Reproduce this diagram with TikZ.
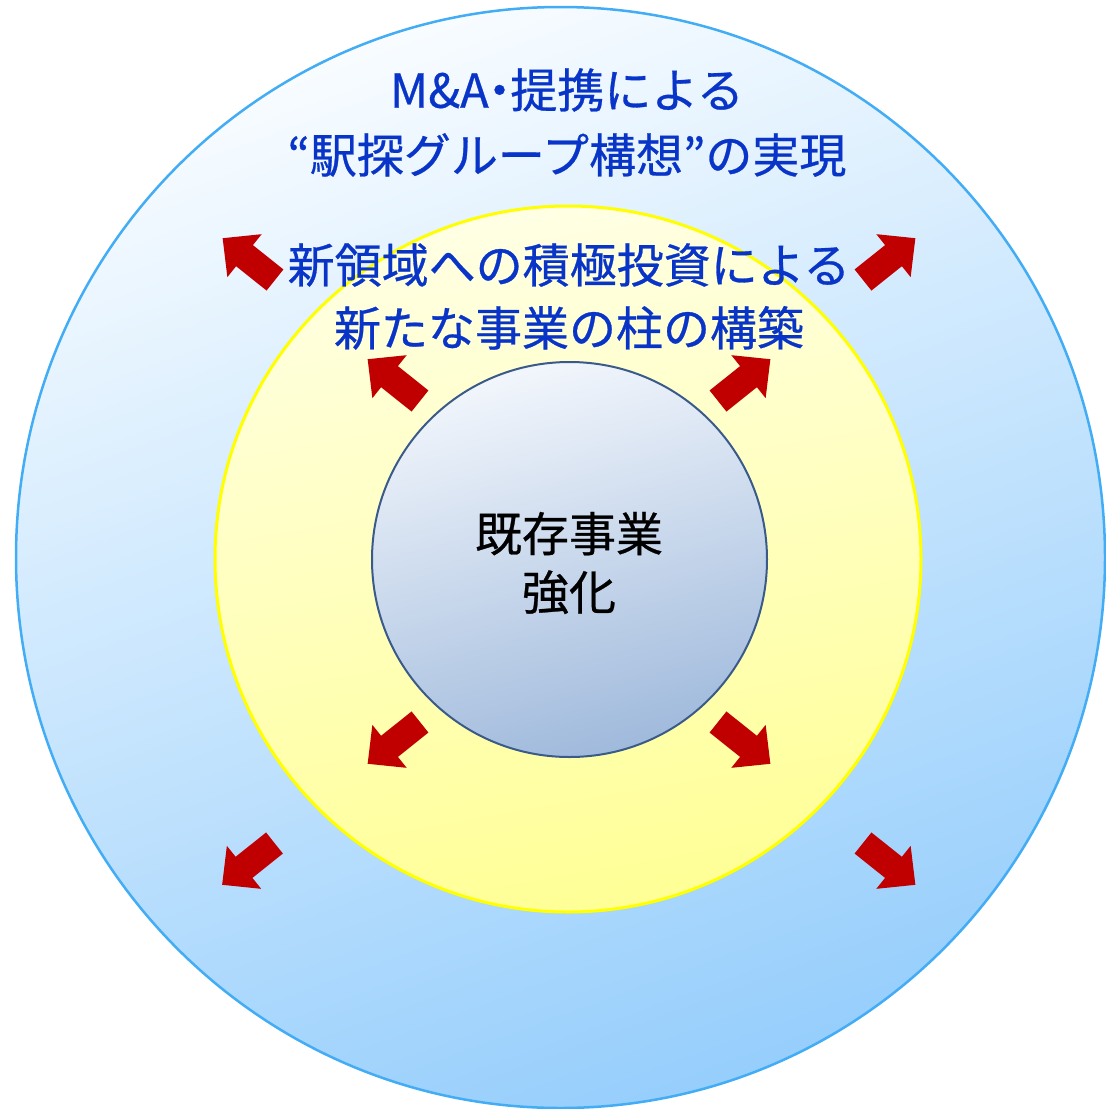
\documentclass[tikz,border=0pt]{standalone}
\usepackage{fontspec}
\usetikzlibrary{shapes.geometric}
\newfontfamily\jpfont[FakeBold=0.6]{Noto Sans CJK JP}
\definecolor{outerline}{RGB}{66,172,245}
\definecolor{outertop}{RGB}{248,252,255}
\definecolor{outerbot}{RGB}{150,206,252}
\definecolor{midline}{RGB}{255,255,0}
\definecolor{midtop}{RGB}{255,255,228}
\definecolor{midbot}{RGB}{255,255,150}
\definecolor{innerline}{RGB}{58,90,138}
\definecolor{innertop}{RGB}{242,246,252}
\definecolor{innerbot}{RGB}{160,186,220}
\definecolor{arrowred}{RGB}{192,0,0}
\definecolor{txtblue}{RGB}{8,52,200}
\tikzset{
  ring/.style={inner sep=0pt, outer sep=0pt},
  bluetext/.style={text=txtblue, align=center, inner sep=0pt},
  redarrow/.pic={\fill[arrowred] (0,-13.5) -- (39,-13.5) -- (39,-27.5) -- (67,0) -- (39,27.5) -- (39,13.5) -- (0,13.5) -- cycle;}
}
\begin{document}
\begin{tikzpicture}[x=1pt,y=-1pt]
\useasboundingbox (0,0) rectangle (1106,1109);
\node[ring, ellipse, minimum width=1089pt, minimum height=1101pt, draw=outerline, line width=2.5pt,
      top color=outertop, bottom color=outerbot, shading angle=20] (outer) at (560.5,557.5) {};
\node[ring, circle, minimum size=706pt, draw=midline, line width=3pt,
      top color=midtop, bottom color=midbot, shading angle=10] (middle) at (568,559) {};
\node[ring, circle, minimum size=395pt, draw=innerline, line width=2pt,
      top color=innertop, bottom color=innerbot, shading angle=15] (inner) at (569.5,559.5) {};
\node[ring, align=center, font=\jpfont\fontsize{47pt}{58.5pt}\selectfont] (innertext) at (569,563) {既存事業\\強化};
\node[bluetext, font=\jpfont\fontsize{47pt}{65pt}\selectfont] (outertext) at (567,122.5) {M\&A\kern-0.27em・\kern-0.27em提携による\\“駅探グループ構想”の実現};
\node[bluetext, font=\jpfont\fontsize{47pt}{63pt}\selectfont] (midtext) at (569,296.5) {新領域への積極投資による\\新たな事業の柱の構築};
% outer arrows
\pic[rotate=141.4] at (275,280) {redarrow};
\pic[rotate=38.6] at (863,280) {redarrow};
\pic[rotate=218.6] at (274.5,843) {redarrow};
\pic[rotate=321.4] at (863,843) {redarrow};
% inner arrows
\pic[rotate=141.4] at (420,401) {redarrow};
\pic[rotate=38.6] at (718,401) {redarrow};
\pic[rotate=218.6] at (420,722) {redarrow};
\pic[rotate=321.4] at (718,722) {redarrow};
\end{tikzpicture}
\end{document}
